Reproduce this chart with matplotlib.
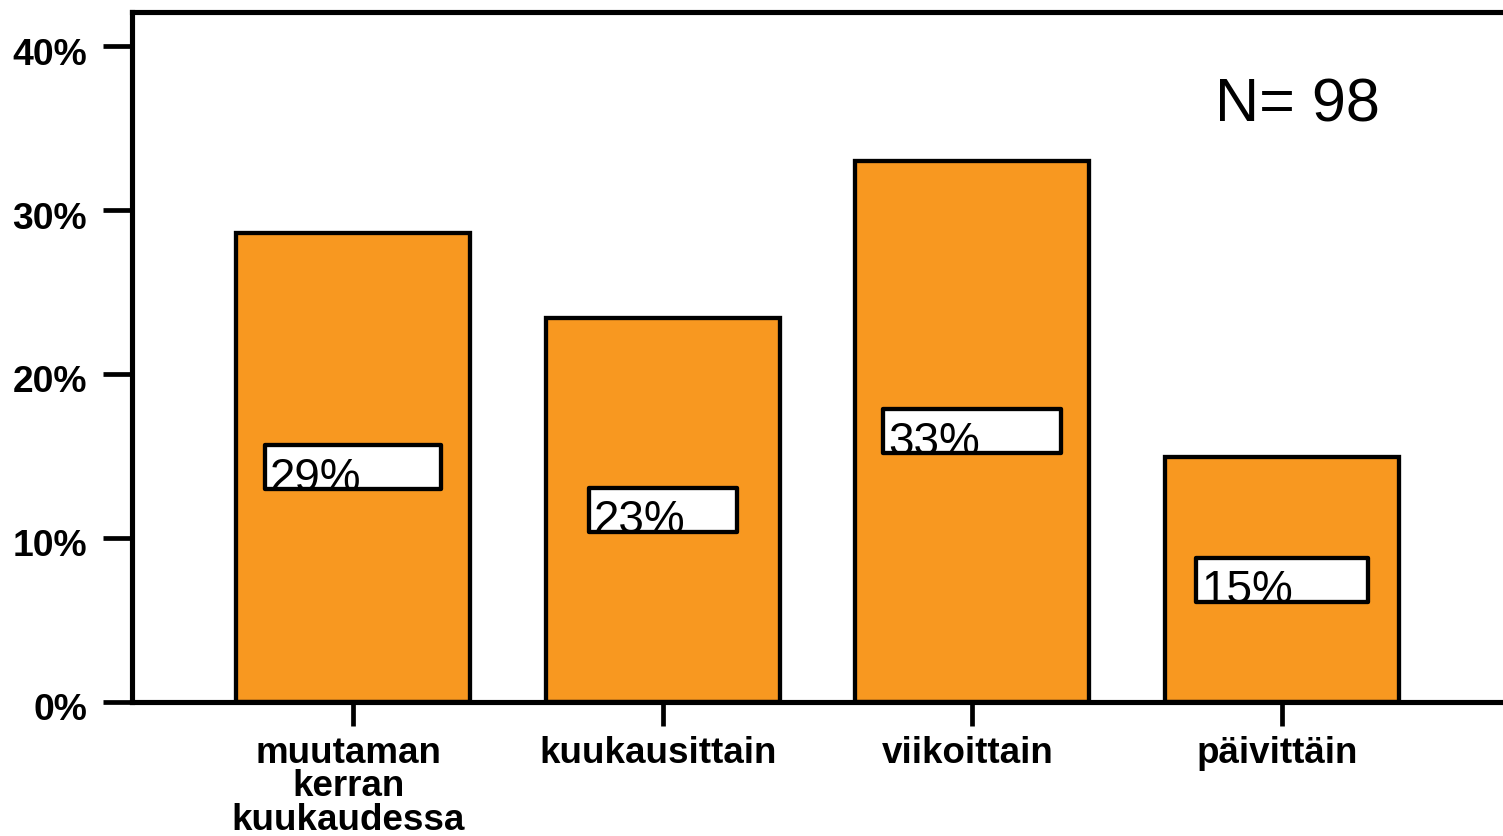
import matplotlib
matplotlib.use("Agg")
import matplotlib.pyplot as plt
from matplotlib.patches import Rectangle
from matplotlib.ticker import FuncFormatter
from matplotlib.transforms import ScaledTranslation

categories = ["muutaman\nkerran\nkuukaudessa", "kuukausittain", "viikoittain", "päivittäin"]
values = [28.6, 23.4, 33.0, 14.9]
n_label = "N= 98"
yticks = [0, 10, 20, 30, 40]

plt.rcParams['font.family'] = ['Liberation Sans', 'DejaVu Sans']

W, H = 1503, 836
fig = plt.figure(figsize=(W / 100, H / 100), dpi=100)
ax = fig.add_axes([131.5 / W, (H - 701.7) / H, 1 - 131.5 / W, (701.7 - 11.7) / H])

orange = '#F89820'
x = list(range(len(values)))
ax.bar(x, values, width=0.756, color=orange, edgecolor='black', linewidth=3.1, zorder=2)

ax.set_xlim(-0.717, 3.714)
ax.set_ylim(0, 42.1)

# value label boxes (widths in axis units, as in the original)
box_w = [0.569, 0.478, 0.575, 0.553]
box_h = 2.68
for xi, v, bw in zip(x, values, box_w):
    cy = v / 2
    y0 = cy - box_h / 2
    bg = Rectangle((xi - bw / 2, y0), bw, box_h, facecolor='white', edgecolor='none', zorder=3)
    ax.add_patch(bg)
    t = ax.text(xi - bw / 2 + 0.015, y0 - 0.08, f"{v:.0f}%", fontsize=33, ha='left', va='baseline',
                color='black', zorder=4)
    t.set_clip_path(bg)
    edge = Rectangle((xi - bw / 2, y0), bw, box_h, facecolor='none', edgecolor='black',
                     linewidth=3.1, zorder=5, joinstyle='round')
    ax.add_patch(edge)

ax.text((1215 - 131.5) / (W - 131.5), (701.7 - 122) / (701.7 - 11.7), n_label,
        transform=ax.transAxes, fontsize=44, ha='left', va='baseline')

ax.spines['right'].set_visible(False)
for s in ['left', 'top', 'bottom']:
    ax.spines[s].set_linewidth(3.7)

ax.set_yticks(yticks)
ax.yaxis.set_major_formatter(FuncFormatter(lambda v, p: f"{v:.0f}%"))
ax.tick_params(axis='y', length=21, width=3.4, pad=11, labelsize=26.8)
ax.set_xticks(x)
ax.set_xticklabels(categories, linespacing=0.95)
ax.tick_params(axis='x', length=17, width=3.4, pad=7.5, labelsize=26.5)
for lab in ax.get_xticklabels() + ax.get_yticklabels():
    lab.set_fontweight('bold')

yshift = ScaledTranslation(0, -5 / 100, fig.dpi_scale_trans)
for tk in ax.yaxis.get_major_ticks():
    tk.label1.set_transform(tk.label1.get_transform() + yshift)
xshift = ScaledTranslation(-5 / 100, 0, fig.dpi_scale_trans)
for tk in ax.xaxis.get_major_ticks():
    tk.label1.set_transform(tk.label1.get_transform() + xshift)

fig.savefig('out.png', dpi=100, facecolor='white')
